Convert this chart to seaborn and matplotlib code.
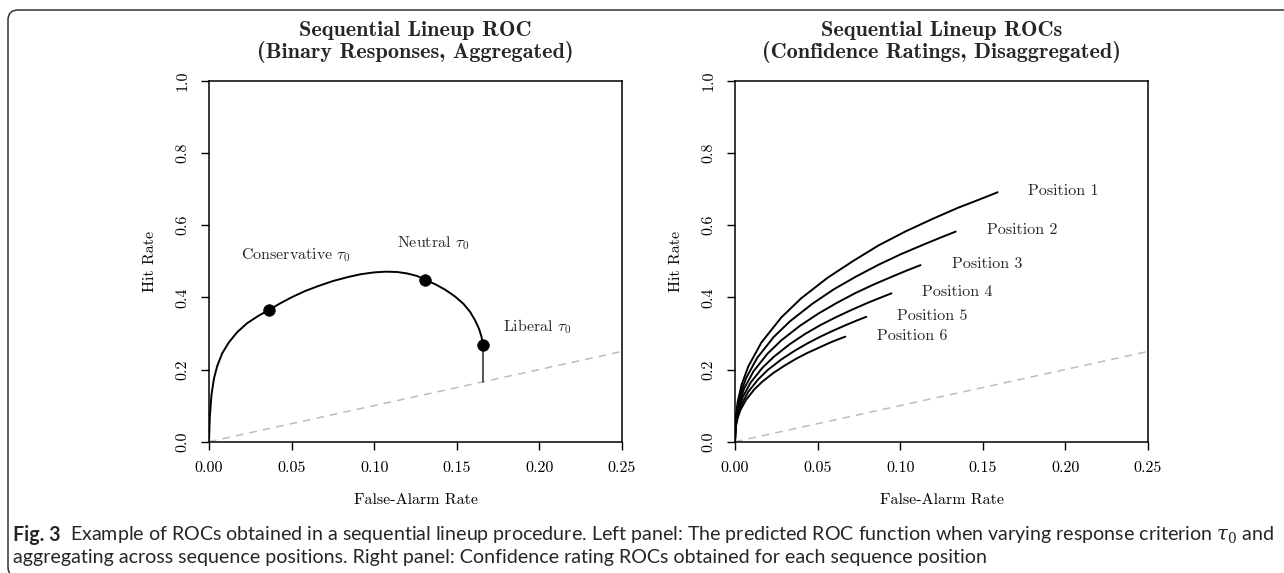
import numpy as np
import pandas as pd
import matplotlib
matplotlib.use("Agg")
import matplotlib.pyplot as plt
import matplotlib.transforms as mtrans
from matplotlib.patches import FancyBboxPatch
import seaborn as sns

# ---------------- data ----------------
x_ticks = [0.00, 0.05, 0.10, 0.15, 0.20, 0.25]
x_tick_labels = ["0.00", "0.05", "0.10", "0.15", "0.20", "0.25"]
y_ticks = [0.0, 0.2, 0.4, 0.6, 0.8, 1.0]
y_tick_labels = ["0.0", "0.2", "0.4", "0.6", "0.8", "1.0"]

chance_far = [0.0, 0.25]
chance_hr = [0.0, 0.25]

# left panel: aggregated binary ROC
far_left = [0, 0.0005, 0.0015, 0.003, 0.005, 0.008, 0.012, 0.017, 0.023, 0.030,
            0.0363, 0.043, 0.050, 0.058, 0.066, 0.075, 0.084, 0.092, 0.100, 0.107,
            0.114, 0.120, 0.126, 0.131, 0.137, 0.143, 0.149, 0.154, 0.158, 0.161,
            0.1635, 0.1650, 0.1657]
hr_left = [0, 0.07, 0.13, 0.175, 0.21, 0.245, 0.275, 0.303, 0.328, 0.349,
           0.365, 0.383, 0.400, 0.417, 0.431, 0.445, 0.456, 0.464, 0.469, 0.471,
           0.470, 0.466, 0.459, 0.448, 0.436, 0.421, 0.402, 0.382, 0.360, 0.337,
           0.312, 0.290, 0.268]
crit_far = [0.0363, 0.131, 0.1657]
crit_hr = [0.365, 0.448, 0.268]
crit_labels = ["Conservative $\\tau_0$", "Neutral $\\tau_0$", "Liberal $\\tau_0$"]
drop_far = [0.1657, 0.1657]
drop_hr = [0.268, 0.1657]

# right panel: confidence-rating ROCs per position
positions = ["Position 1", "Position 2", "Position 3", "Position 4", "Position 5", "Position 6"]
far_pos1 = [0, 0.0005, 0.0016, 0.004, 0.008, 0.016, 0.028, 0.040, 0.056, 0.072, 0.087, 0.103, 0.119, 0.135, 0.148, 0.159]
hr_pos1 = [0, 0.068, 0.110, 0.158, 0.208, 0.275, 0.344, 0.397, 0.454, 0.502, 0.544, 0.582, 0.616, 0.648, 0.671, 0.691]
far_pos2 = [0, 0.0004, 0.0013, 0.0033, 0.0067, 0.0134, 0.0234, 0.0334, 0.0468, 0.0601, 0.0735, 0.0868, 0.1002, 0.1136, 0.1242, 0.1336]
hr_pos2 = [0, 0.057, 0.092, 0.133, 0.176, 0.232, 0.290, 0.334, 0.382, 0.423, 0.458, 0.490, 0.519, 0.545, 0.565, 0.582]
far_pos3 = [0, 0.0003, 0.0011, 0.0028, 0.0056, 0.0112, 0.0197, 0.0281, 0.0393, 0.0505, 0.0618, 0.0730, 0.0842, 0.0955, 0.1044, 0.1123]
hr_pos3 = [0, 0.048, 0.078, 0.112, 0.148, 0.195, 0.244, 0.281, 0.321, 0.355, 0.385, 0.412, 0.436, 0.458, 0.475, 0.489]
far_pos4 = [0, 0.0003, 0.0009, 0.0024, 0.0047, 0.0095, 0.0166, 0.0237, 0.0331, 0.0426, 0.0521, 0.0616, 0.0710, 0.0805, 0.0881, 0.0947]
hr_pos4 = [0, 0.040, 0.065, 0.094, 0.124, 0.164, 0.205, 0.236, 0.270, 0.299, 0.324, 0.346, 0.366, 0.385, 0.399, 0.411]
far_pos5 = [0, 0.0002, 0.0008, 0.0020, 0.0040, 0.0080, 0.0139, 0.0199, 0.0278, 0.0358, 0.0437, 0.0517, 0.0596, 0.0676, 0.0739, 0.0795]
hr_pos5 = [0, 0.034, 0.055, 0.079, 0.104, 0.138, 0.172, 0.199, 0.227, 0.251, 0.272, 0.291, 0.308, 0.324, 0.336, 0.346]
far_pos6 = [0, 0.0002, 0.0007, 0.0017, 0.0033, 0.0067, 0.0117, 0.0167, 0.0234, 0.0301, 0.0367, 0.0434, 0.0501, 0.0568, 0.0621, 0.0668]
hr_pos6 = [0, 0.028, 0.046, 0.067, 0.088, 0.116, 0.145, 0.167, 0.191, 0.211, 0.229, 0.245, 0.259, 0.273, 0.283, 0.291]

titles_left = ["Sequential Lineup ROC", "(Binary Responses, Aggregated)"]
titles_right = ["Sequential Lineup ROCs", "(Confidence Ratings, Disaggregated)"]
x_label = "False-Alarm Rate"
y_label = "Hit Rate"
caption_bold = "Fig. 3"
caption_line1 = ("Example of ROCs obtained in a sequential lineup procedure. Left panel: The predicted "
                 "ROC function when varying response criterion $\\tau_0$ and")
caption_line2 = ("aggregating across sequence positions. Right panel: Confidence rating ROCs obtained "
                 "for each sequence position")

# label positions (layout)
crit_label_pos = [(0.0527, 0.517), (0.1354, 0.550), (0.1988, 0.3186)]
pos_label_pos = [(0.1987, 0.695), (0.1741, 0.586), (0.1528, 0.491),
                 (0.1348, 0.413), (0.1196, 0.3485), (0.1070, 0.293)]

# ---------------- style ----------------
sns.set_theme(style="ticks")
plt.rcParams["font.family"] = ["cmr10", "DejaVu Sans"]
plt.rcParams["mathtext.fontset"] = "cm"
plt.rcParams["axes.unicode_minus"] = False

W, H = 1284, 573
fig = plt.figure(figsize=(W / 100, H / 100), dpi=100)
fig.patch.set_facecolor("white")

ax_bottom_px = 441.7
ax_h_px = 361.0
ax_w_px = 413.0
ax_left_px = [209.0, 735.0]

axes = []
for lx in ax_left_px:
    ax = fig.add_axes([lx / W, (H - ax_bottom_px) / H, ax_w_px / W, ax_h_px / H])
    axes.append(ax)
axL, axR = axes

line_col = "black"
chance_kw = dict(color="#bdbdbd", lw=1.1, dashes=(5, 4), estimator=None, sort=False)

# left panel
sns.lineplot(x=chance_far, y=chance_hr, ax=axL, **chance_kw)
sns.lineplot(x=drop_far, y=drop_hr, ax=axL, color="#555555", lw=1.4,
             estimator=None, sort=False)
dfL = pd.DataFrame({"far": far_left, "hr": hr_left})
sns.lineplot(data=dfL, x="far", y="hr", sort=False, estimator=None, ax=axL,
             color=line_col, lw=1.4)
sns.scatterplot(x=crit_far, y=crit_hr, ax=axL, s=70, color="black",
                edgecolor="black", linewidth=0.5, zorder=5)
for lab, (tx, ty) in zip(crit_labels, crit_label_pos):
    axL.text(tx, ty, lab, ha="center", va="center", fontsize=11.5)

# right panel
sns.lineplot(x=chance_far, y=chance_hr, ax=axR, **chance_kw)
fars = [far_pos1, far_pos2, far_pos3, far_pos4, far_pos5, far_pos6]
hrs = [hr_pos1, hr_pos2, hr_pos3, hr_pos4, hr_pos5, hr_pos6]
dfR = pd.concat([pd.DataFrame({"far": f, "hr": h, "pos": p})
                 for f, h, p in zip(fars, hrs, positions)], ignore_index=True)
sns.lineplot(data=dfR, x="far", y="hr", units="pos", estimator=None, sort=False,
             ax=axR, color=line_col, lw=1.4)
for lab, (tx, ty) in zip(positions, pos_label_pos):
    axR.text(tx, ty, lab, ha="center", va="center", fontsize=11.5)

for ax, ttl in zip(axes, [titles_left, titles_right]):
    ax.set_xlim(0, 0.25)
    ax.set_ylim(0, 1)
    ax.set_xticks(x_ticks)
    ax.set_xticklabels(x_tick_labels)
    ax.set_yticks(y_ticks)
    ax.set_yticklabels(y_tick_labels, rotation=90, va="center", ha="right")
    ax.tick_params(axis="both", direction="out", length=6, width=1.0, color="black",
                   labelsize=11.5, labelcolor="black", pad=8, bottom=True, left=True)
    for sp in ax.spines.values():
        sp.set_visible(True)
        sp.set_color("black")
        sp.set_linewidth(1.1)
    ax.set_xlabel(x_label, fontsize=11.5, color="black", va="center")
    ax.set_ylabel(y_label, fontsize=11.5, color="black", va="center")
    ax.xaxis.set_label_coords(0.5, -(500 - ax_bottom_px) / ax_h_px)
    ax.yaxis.set_label_coords(-(209 - 150.5) / ax_w_px, 0.5)
    ax.grid(False)
    ax.set_facecolor("white")
    top_px = ax_bottom_px - ax_h_px
    ax.text(0.5, 1 + (top_px - 30) / ax_h_px, ttl[0], transform=ax.transAxes,
            ha="center", va="center", fontsize=16, family=["cmb10", "DejaVu Sans"])
    ax.text(0.5, 1 + (top_px - 52) / ax_h_px, ttl[1], transform=ax.transAxes,
            ha="center", va="center", fontsize=16, family=["cmb10", "DejaVu Sans"])

# frame with rounded corner (pixel coordinates)
frame = FancyBboxPatch((8, -4), 1400, H - 10 + 4, boxstyle="round,pad=0,rounding_size=10",
                       transform=mtrans.IdentityTransform(), facecolor="none",
                       edgecolor="#333333", linewidth=1.1)
fig.add_artist(frame)

# caption
cap_font = ["Lato", "DejaVu Sans"]
cap_fs = 13.0
y1 = (H - 535) / H
y2 = (H - 558) / H
x0 = 13 / W
tb = fig.text(x0, y1, caption_bold, fontsize=cap_fs, weight="bold", family=cap_font, va="center")
t1 = fig.text(0, y1, caption_line1, fontsize=cap_fs, family=cap_font, va="center",
              math_fontfamily="dejavuserif")
t2 = fig.text(x0, y2, caption_line2, fontsize=cap_fs, family=cap_font, va="center",
              math_fontfamily="dejavuserif")

def place_caption():
    fig.canvas.draw()
    r = fig.canvas.get_renderer()
    bb = tb.get_window_extent(r)
    t1.set_x((bb.x1 + 9) / W)
    fig.canvas.draw()
    return t1.get_window_extent(r).x1

end = place_caption()
target_end = 1272
scale = (target_end - 13) / (end - 13)
for t in (tb, t1, t2):
    t.set_fontsize(cap_fs * scale)
place_caption()

fig.savefig("out.png", dpi=100, facecolor="white")
